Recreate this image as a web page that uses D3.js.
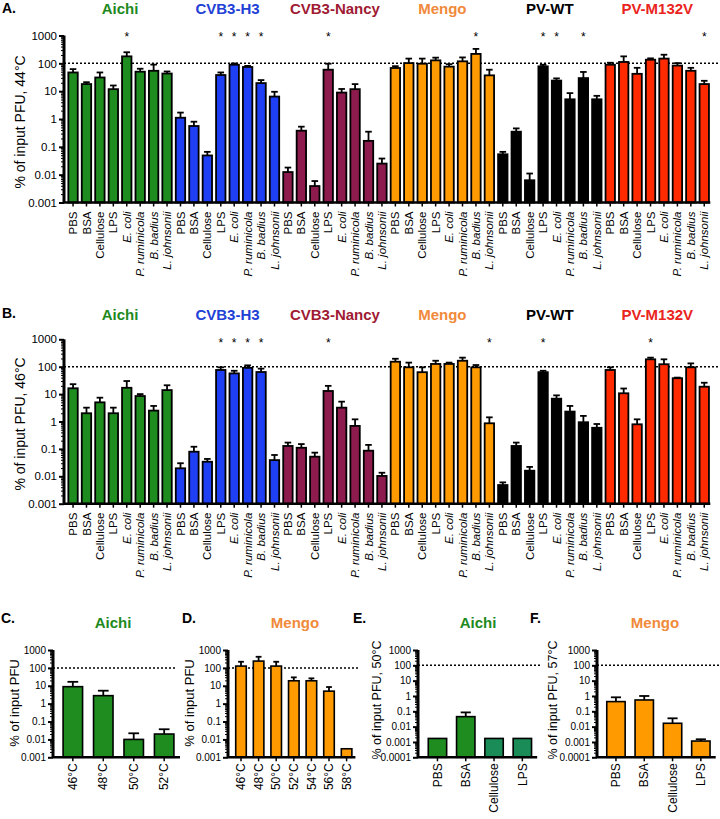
<!DOCTYPE html>
<html><head><meta charset="utf-8">
<script src="https://cdn.jsdelivr.net/npm/d3@7/dist/d3.min.js"></script>
<style>
body{margin:0;background:#fff;}
svg{font-family:"Liberation Sans",Arial,Helvetica,sans-serif;}
</style></head>
<body>
<svg id="chart" width="720" height="819"></svg>
<script>
// ---------------- DATA ----------------
const viruses = ["Aichi","CVB3-H3","CVB3-Nancy","Mengo","PV-WT","PV-M132V"];
const treatments = ["PBS","BSA","Cellulose","LPS","E. coli","P. ruminicola","B. badius","L. johnsonii"];
const italicTreatments = ["E. coli","P. ruminicola","B. badius","L. johnsonii"];

// Panel A (44°C) means and upper error values, % of input PFU
const aichi44 = [47, 18, 31, 11.8, 178, 50, 54, 43];
const aichi44Err = [62, 21, 47, 16, 250, 64, 90, 51];
const cvbH3_44 = [1.11, 0.56, 0.049, 38, 89, 74, 19.5, 6.4];
const cvbH3_44Err = [1.7, 0.8, 0.066, 47, 99, 81, 25, 9.5];
const cvbN_44 = [0.0124, 0.38, 0.0039, 59, 8.9, 11.8, 0.164, 0.025];
const cvbN_44Err = [0.018, 0.53, 0.0059, 97, 12, 17.9, 0.35, 0.038];
const mengo44 = [68, 102, 97, 128, 76, 118, 218, 37];
const mengo44Err = [79, 148, 148, 160, 93, 163, 330, 59];
const pvwt44 = [0.054, 0.35, 0.0063, 78, 24, 5.1, 29.5, 5.1];
const pvwt44Err = [0.066, 0.46, 0.011, 89, 28.8, 8.5, 49, 6.8];
const pvm44 = [89, 112, 42, 135, 148, 83, 54, 18];
const pvm44Err = [105, 178, 69, 151, 204, 102, 69, 23.6];
const starsA = [["Aichi","E. coli"],["CVB3-H3","LPS"],["CVB3-H3","E. coli"],["CVB3-H3","P. ruminicola"],["CVB3-H3","B. badius"],["CVB3-Nancy","LPS"],["Mengo","B. badius"],["PV-WT","LPS"],["PV-WT","E. coli"],["PV-WT","B. badius"],["PV-M132V","L. johnsonii"]];

// Panel B (46°C)
const aichi46 = [16.3, 2.0, 5.0, 2.0, 17, 8.5, 2.5, 14];
const aichi46Err = [23, 3.2, 7.4, 3.2, 30, 10, 3.7, 21];
const cvbH3_46 = [0.0196, 0.079, 0.034, 76, 57, 91, 64, 0.039];
const cvbH3_46Err = [0.03, 0.12, 0.043, 95, 71, 112, 85, 0.06];
const cvbN_46 = [0.128, 0.11, 0.052, 13, 3.2, 0.69, 0.086, 0.0103];
const cvbN_46Err = [0.17, 0.15, 0.073, 20, 5.3, 1.2, 0.14, 0.0135];
const mengo46 = [152, 95, 63, 126, 126, 165, 95, 0.86];
const mengo46Err = [195, 141, 95, 165, 141, 214, 115, 1.42];
const pvwt46 = [0.0048, 0.128, 0.016, 63, 6.8, 2.3, 0.94, 0.59];
const pvwt46Err = [0.006, 0.17, 0.022, 71, 9.0, 3.7, 1.6, 0.81];
const pvm46 = [76, 10.7, 0.79, 186, 123, 38, 95, 18.6];
const pvm46Err = [95, 16, 1.2, 214, 186, 40, 132, 26];
const starsB = [["CVB3-H3","LPS"],["CVB3-H3","E. coli"],["CVB3-H3","P. ruminicola"],["CVB3-H3","B. badius"],["CVB3-Nancy","LPS"],["Mengo","L. johnsonii"],["PV-WT","LPS"],["PV-M132V","LPS"]];

// Panel C: Aichi temperature series
const tempsC = ["46°C","48°C","50°C","52°C"];
const aichiTemp = [8.9, 2.8, 0.01, 0.02];
const aichiTempErr = [16.6, 5.3, 0.022, 0.037];
// Panel D: Mengo temperature series
const tempsD = ["46°C","48°C","50°C","52°C","54°C","56°C","58°C"];
const mengoTemp = [126, 240, 126, 19, 19, 5.0, 0.003];
const mengoTempErr = [220, 418, 220, 29.5, 26, 8.5, null];
// Panel E: Aichi 50°C
const treatEF = ["PBS","BSA","Cellulose","LPS"];
const aichi50 = [0.0017, 0.045, 0.0017, 0.0017];
const aichi50Err = [null, 0.085, null, null];
// Panel F: Mengo 57°C
const mengo57 = [0.43, 0.55, 0.0166, 0.00115];
const mengo57Err = [0.82, 1.0, 0.035, 0.0015];

const tickValues6 = [0.001, 0.01, 0.1, 1, 10, 100, 1000];
const tickLabels6 = ["0.001","0.01","0.1","1","10","100","1000"];
const tickValues7 = [0.0001, 0.001, 0.01, 0.1, 1, 10, 100, 1000];
const tickLabels7 = ["0.0001","0.001","0.01","0.1","1","10","100","1000"];
const referenceLevel = 100;

// ---------------- STYLE ----------------
const barColor = {"Aichi":"#1f8c1f","CVB3-H3":"#1f3ff5","CVB3-Nancy":"#8e1b4e","Mengo":"#ff9a00","PV-WT":"#000000","PV-M132V":"#ff2a00"};
const titleColor = {"Aichi":"#1e8a1e","CVB3-H3":"#2140d6","CVB3-Nancy":"#a01a33","Mengo":"#f08a3a","PV-WT":"#000000","PV-M132V":"#ea2420"};
const tealGreen = "#1a8c58";

const svg = d3.select("#chart");

function minorTicks(lo, hi){
  const out=[];
  for(let e=Math.round(Math.log10(lo)); e<Math.round(Math.log10(hi)); e++){
    for(let k=2;k<=9;k++) out.push(k*Math.pow(10,e));
  }
  return out;
}

function drawPanel(cfg){
  const g = svg.append("g");
  const x = d3.scaleBand().domain(d3.range(cfg.labels.length)).range(cfg.xRange)
     .paddingInner(cfg.pi).paddingOuter(cfg.po);
  const y = d3.scaleLog().domain(cfg.yDomain).range(cfg.yRange);
  const base = cfg.yRange[0];
  const bw = x.bandwidth();

  // reference dotted line
  g.append("line").attr("x1",cfg.axisX).attr("x2",cfg.dotEnd)
    .attr("y1",y(referenceLevel)).attr("y2",y(referenceLevel))
    .attr("stroke","#000").attr("stroke-width",1.5).attr("stroke-dasharray","2,2");

  // bars
  g.selectAll("rect.bar").data(cfg.values).join("rect")
    .attr("x",(d,i)=>x(i)).attr("width",bw)
    .attr("y",d=>y(d)).attr("height",d=>base-y(d))
    .attr("fill",(d,i)=>cfg.color(i)).attr("stroke","#000").attr("stroke-width",cfg.barStroke);

  // error bars
  const errs = cfg.errs.map((e,i)=>({e,i,v:cfg.values[i]})).filter(d=>d.e!=null);
  const cap = bw*cfg.capFrac/2;
  g.selectAll("line.err").data(errs).join("line")
    .attr("x1",d=>x(d.i)+bw/2).attr("x2",d=>x(d.i)+bw/2)
    .attr("y1",d=>y(d.v)).attr("y2",d=>y(d.e))
    .attr("stroke","#000").attr("stroke-width",1.8);
  g.selectAll("line.cap").data(errs).join("line")
    .attr("x1",d=>x(d.i)+bw/2-cap).attr("x2",d=>x(d.i)+bw/2+cap)
    .attr("y1",d=>y(d.e)).attr("y2",d=>y(d.e))
    .attr("stroke","#000").attr("stroke-width",1.8);

  // y axis
  const yAxis = d3.axisLeft(y).tickValues(cfg.tickValues)
    .tickFormat((d,i)=>cfg.tickLabels[i]).tickSize(5).tickSizeOuter(0).tickPadding(2);
  const ya = g.append("g").attr("transform",`translate(${cfg.axisX},0)`).call(yAxis);
  ya.select(".domain").remove();
  ya.selectAll("line").attr("stroke-width",2);
  ya.selectAll("text").attr("font-size",cfg.yTickFont).attr("fill","#000");
  const ym = g.append("g").attr("transform",`translate(${cfg.axisX},0)`)
    .call(d3.axisLeft(y).tickValues(minorTicks(cfg.yDomain[0],cfg.yDomain[1])).tickFormat("").tickSize(3).tickSizeOuter(0));
  ym.select(".domain").remove();
  ym.selectAll("line").attr("stroke-width",1);
  g.append("line").attr("x1",cfg.axisX).attr("x2",cfg.axisX)
    .attr("y1",base).attr("y2",cfg.yRange[1])
    .attr("stroke","#000").attr("stroke-width",3);

  // x axis
  const xa = g.append("g").attr("transform",`translate(0,${base})`)
    .call(d3.axisBottom(x).tickSize(4).tickFormat(i=>cfg.labels[i]));
  xa.select(".domain").remove();
  xa.selectAll("line").attr("stroke-width",1.5);
  xa.selectAll("text")
    .attr("transform","rotate(-90)").attr("text-anchor","end")
    .attr("x",-cfg.xLabelOffset).attr("y",0).attr("dy","0.35em")
    .attr("font-size",cfg.xTickFont).attr("fill","#000")
    .attr("font-style",(i)=>italicTreatments.includes(cfg.labels[i])?"italic":"normal");
  g.append("line").attr("x1",cfg.axisX).attr("x2",cfg.xRange[1])
    .attr("y1",base).attr("y2",base).attr("stroke","#000").attr("stroke-width",2.5);

  // y label
  g.append("text").attr("transform",`translate(${cfg.yLabelX},${cfg.yLabelY}) rotate(-90)`)
    .attr("text-anchor","middle").attr("font-size",cfg.yLabelFont).text(cfg.yLabel);

  // panel letter
  g.append("text").attr("x",cfg.letterX).attr("y",cfg.letterY).attr("font-size",14)
    .attr("font-weight","bold").text(cfg.letter);

  return {g,x,y};
}

// ---------- Panels A & B ----------
function drawBig(cfg){
  const labels=[], values=[], errs=[], colors=[];
  viruses.forEach((v,vi)=>{
    treatments.forEach((t,ti)=>{
      labels.push(t); values.push(cfg.series[vi][ti]); errs.push(cfg.errSeries[vi][ti]); colors.push(barColor[v]);
    });
  });
  const p = drawPanel({
    labels, values, errs, color:i=>colors[i],
    xRange:[67,710.3], pi:0.3, po:0.1, axisX:64,
    yDomain:[0.001,1000], yRange:cfg.yRange, tickValues:tickValues6, tickLabels:tickLabels6,
    dotEnd:720, barStroke:1.8, capFrac:0.7,
    yTickFont:11.5, xTickFont:11.5, xLabelOffset:9,
    yLabel:cfg.yLabel, yLabelX:25, yLabelY:cfg.yLabelY, yLabelFont:14,
    letter:cfg.letter, letterX:2, letterY:cfg.letterY
  });
  // group titles
  viruses.forEach((v,vi)=>{
    const cx = (p.x(vi*8)+p.x(vi*8+7)+p.x.bandwidth())/2;
    p.g.append("text").attr("x",cx).attr("y",cfg.titleY).attr("text-anchor","middle")
      .attr("font-size",15).attr("font-weight","bold").attr("fill",titleColor[v]).text(v);
  });
  // stars
  cfg.stars.forEach(([v,t])=>{
    const i = viruses.indexOf(v)*8 + treatments.indexOf(t);
    p.g.append("text").attr("x",p.x(i)+p.x.bandwidth()/2).attr("y",cfg.starY)
      .attr("text-anchor","middle").attr("font-size",12).text("*");
  });
}

drawBig({series:[aichi44,cvbH3_44,cvbN_44,mengo44,pvwt44,pvm44],
  errSeries:[aichi44Err,cvbH3_44Err,cvbN_44Err,mengo44Err,pvwt44Err,pvm44Err],
  yRange:[202.5,35.5], yLabel:"% of input PFU, 44°C", yLabelY:122,
  letter:"A.", letterY:13, titleY:14, stars:starsA, starY:41});

drawBig({series:[aichi46,cvbH3_46,cvbN_46,mengo46,pvwt46,pvm46],
  errSeries:[aichi46Err,cvbH3_46Err,cvbN_46Err,mengo46Err,pvwt46Err,pvm46Err],
  yRange:[503.7,339.3], yLabel:"% of input PFU, 46°C", yLabelY:424,
  letter:"B.", letterY:318, titleY:320, stars:starsB, starY:347});

// ---------- Small panels ----------
function small(cfg){
  const p = drawPanel(Object.assign({
    yRange:[757.3,650], barStroke:1.6, capFrac:0.55,
    yTickFont:10, xTickFont:12, xLabelOffset:6, letterY:623
  },cfg));
  p.g.append("text").attr("x",cfg.titleX).attr("y",628).attr("text-anchor","middle")
    .attr("font-size",15).attr("font-weight","bold").attr("fill",titleColor[cfg.virus]).text(cfg.virus);
}

small({labels:tempsC, values:aichiTemp, errs:aichiTempErr, color:()=>barColor["Aichi"], virus:"Aichi",
  xRange:[57,180], pi:0.36, po:0.2, axisX:53, dotEnd:176,
  yDomain:[0.001,1000], tickValues:tickValues6, tickLabels:tickLabels6,
  yLabel:"% of input PFU", yLabelX:19, yLabelY:703, yLabelFont:13,
  letter:"C.", letterX:1, titleX:113});

small({labels:tempsD, values:mengoTemp, errs:mengoTempErr, color:()=>barColor["Mengo"], virus:"Mengo",
  xRange:[232.2,355.4], pi:0.4, po:0.2, axisX:228, dotEnd:360,
  yDomain:[0.001,1000], tickValues:tickValues6, tickLabels:tickLabels6,
  yLabel:"% of input PFU", yLabelX:194, yLabelY:703, yLabelFont:13,
  letter:"D.", letterX:182, titleX:295});

small({labels:treatEF, values:aichi50, errs:aichi50Err, color:i=>i<2?barColor["Aichi"]:tealGreen, virus:"Aichi",
  xRange:[422.6,537.2], pi:0.35, po:0.2, axisX:418, dotEnd:540,
  yDomain:[0.0001,1000], tickValues:tickValues7, tickLabels:tickLabels7,
  yLabel:"% of input PFU, 50°C", yLabelX:381, yLabelY:700, yLabelFont:12.5,
  letter:"E.", letterX:353, titleX:478});

small({labels:treatEF, values:mengo57, errs:mengo57Err, color:()=>barColor["Mengo"], virus:"Mengo",
  xRange:[601.1,715.7], pi:0.35, po:0.2, axisX:597, dotEnd:720,
  yDomain:[0.0001,1000], tickValues:tickValues7, tickLabels:tickLabels7,
  yLabel:"% of input PFU, 57°C", yLabelX:557, yLabelY:700, yLabelFont:12.5,
  letter:"F.", letterX:530, titleX:655});
</script>
</body></html>
